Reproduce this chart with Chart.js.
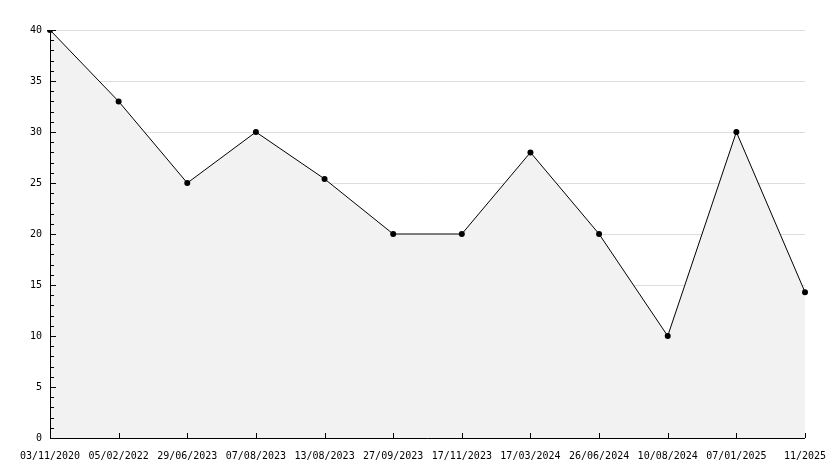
<!DOCTYPE html>
<html><head><meta charset="utf-8">
<script src="https://cdn.jsdelivr.net/npm/chart.js@4/dist/chart.umd.min.js"></script>
<style>html,body{margin:0;padding:0;background:#fff}#wrap{width:834px;height:468px}</style>
</head><body><div id="wrap"><canvas id="c"></canvas></div>
<script>
const labels = ['03/11/2020','05/02/2022','29/06/2023','07/08/2023','13/08/2023','27/09/2023','17/11/2023','17/03/2024','26/06/2024','10/08/2024','07/01/2025','11/2025'];
const values = [40, 33, 25, 30, 25.4, 20, 20, 28, 20, 10, 30, 14.3];
const yTicks = [0, 5, 10, 15, 20, 25, 30, 35, 40];

// inward axis ticks (major + minor) drawn from the scales
const tickMarks = {
  id: 'tickMarks',
  afterDatasetsDraw(chart) {
    const { ctx, scales: { x, y }, chartArea: a } = chart;
    ctx.save();
    ctx.strokeStyle = '#000'; ctx.lineWidth = 1;
    ctx.beginPath();
    ctx.moveTo(a.left + 0.5, a.top); ctx.lineTo(a.left + 0.5, a.bottom + 0.5);
    ctx.lineTo(a.right, a.bottom + 0.5);
    for (let v = 0; v <= 40; v++) {
      const py = Math.round(y.getPixelForValue(v)) + 0.5;
      const len = v % 5 === 0 ? 6 : 4;
      ctx.moveTo(a.left, py); ctx.lineTo(a.left + len, py);
    }
    labels.forEach((_, i) => {
      const px = Math.round(x.getPixelForValue(i)) + 0.5;
      ctx.moveTo(px, a.bottom); ctx.lineTo(px, a.bottom - 5);
    });
    ctx.stroke();
    ctx.restore();
  }
};

new Chart(document.getElementById('c'), {
  type: 'line',
  data: { labels, datasets: [{
    data: values, borderColor: '#000', borderWidth: 1, backgroundColor: '#f2f2f2',
    fill: 'origin', tension: 0, pointRadius: 3, pointBackgroundColor: '#000', pointBorderWidth: 0
  }] },
  options: {
    responsive: true, maintainAspectRatio: false, animation: false,
    layout: { padding: { top: 30, right: 29, left: 0, bottom: 0 } },
    plugins: { legend: { display: false }, tooltip: { enabled: false } },
    scales: {
      x: { offset: false, grid: { display: false }, border: { display: false },
        afterFit: s => { s.height = 30; },
        ticks: { color: '#000', maxRotation: 0, autoSkip: false, padding: 4, font: { family: 'DejaVu Sans Mono', size: 10 } } },
      y: { min: 0, max: 40, afterBuildTicks: s => { s.ticks = yTicks.map(v => ({ value: v })); },
        afterFit: s => { s.width = 50; },
        grid: { color: '#dddddd', drawTicks: false }, border: { display: false },
        ticks: { color: '#000', padding: 8, font: { family: 'DejaVu Sans Mono', size: 10 } } }
    }
  },
  plugins: [tickMarks]
});
</script></body></html>
